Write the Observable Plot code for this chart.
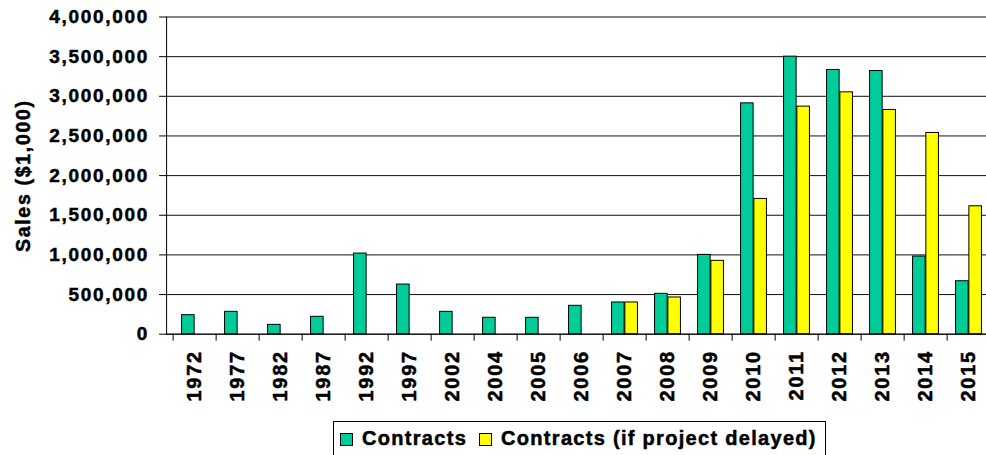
<!DOCTYPE html>
<html><head><meta charset="utf-8">
<script src="https://cdn.jsdelivr.net/npm/d3@7"></script>
<script src="https://cdn.jsdelivr.net/npm/@observablehq/plot@0.6"></script>
<style>
html,body{margin:0;padding:0;background:#fff;overflow:hidden;}
#wrap{position:relative;width:986px;height:455px;overflow:hidden;background:#fff;}
#chart svg{display:block;max-width:none !important;width:997px !important;height:420px !important;}
#chart svg text{stroke:#000;stroke-width:0.5px;}
#legend{position:absolute;left:333px;top:421px;height:40px;border:1.5px solid #000;box-sizing:border-box;display:flex;align-items:flex-start;padding:5px 8px 0 6px;font:bold 20px "Liberation Sans",Arial,sans-serif;letter-spacing:1.3px;-webkit-text-stroke:0.5px #000;color:#000;background:#fff;white-space:nowrap;}
.sw{width:11px;height:11px;border:1px solid #000;flex:none;margin:6px 9px 0 0;-webkit-text-stroke:0;}
.lab{margin-right:12px;}
</style></head>
<body>
<div id="wrap"><div id="chart"></div>
<div id="legend"></div></div>
<script>
const years = ["1972","1977","1982","1987","1992","1997","2002","2004","2005","2006","2007","2008","2009","2010","2011","2012","2013","2014","2015"];
const contracts = [240000,282000,118000,219000,1017000,626000,282000,207000,207000,358000,400000,509000,1000000,2911000,3500000,3332000,3319000,979000,668000];
const delayed = [null,null,null,null,null,null,null,null,null,null,400000,463000,925000,1706000,2870000,3050000,2828000,2538000,1613000];
const seriesNames = ["Contracts","Contracts (if project delayed)"];
const seriesColors = ["#00CC99","#FFFF00"];
const yTicks = [0,500000,1000000,1500000,2000000,2500000,3000000,3500000,4000000];

const rows = years.map((y,i)=>({year:y, contracts:contracts[i], delayed:delayed[i]}));
const W = 997, H = 420, ML = 166.1, MT = 16.5, Y0 = 333.7;
const bw = (W - ML) / years.length;
const barW = 13.3;

const chart = Plot.plot({
  width: W, height: H,
  marginLeft: ML, marginRight: 0, marginTop: MT, marginBottom: H - Y0,
  x: {type: "band", domain: years, padding: 0, axis: null},
  y: {domain: [0, 4000000], axis: null},
  style: {fontFamily: "'Liberation Sans', Arial, sans-serif", fontWeight: "bold", fontSize: "19px", color: "#000", letterSpacing: "1.7px", background: "#fff"},
  marks: [
    Plot.gridY(yTicks, {stroke: "#111", strokeOpacity: 1, strokeWidth: 1}),
    Plot.barY(rows, {x: "year", y: "contracts", fill: seriesColors[0], stroke: "#000", strokeWidth: 1, insetLeft: bw/2 - barW, insetRight: bw/2}),
    Plot.barY(rows.filter(d => d.delayed != null), {x: "year", y: "delayed", fill: seriesColors[1], stroke: "#000", strokeWidth: 1, insetLeft: bw/2, insetRight: bw/2 - barW}),
    Plot.ruleY([0], {stroke: "#000", strokeWidth: 1}),
    Plot.frame({anchor: "left", stroke: "#000"}),
    Plot.axisY({ticks: yTicks, tickFormat: d3.format(","), tickSize: 7, tickPadding: 10.5, fontSize: 19, stroke: "#000", label: null}),
    Plot.axisX({tickSize: 7, tickFormat: () => "", dx: -bw/2, stroke: "#000", label: null}),
    Plot.axisX({tickSize: 0, tickPadding: 16, tickRotate: -90, fontSize: 20, label: null}),
    Plot.text(["Sales ($1,000)"], {frameAnchor: "left", dx: -143, rotate: -90, fontSize: 19.5, fontWeight: "bold", fill: "#000", textAnchor: "middle", lineAnchor: "middle"})
  ]
});
document.getElementById("chart").appendChild(chart);

const lg = document.getElementById("legend");
seriesNames.forEach((n,i)=>{
  const s = document.createElement("span"); s.className = "sw"; s.style.background = seriesColors[i];
  const t = document.createElement("span"); t.className = "lab"; t.textContent = n;
  if (i === seriesNames.length - 1) t.style.marginRight = "0";
  lg.appendChild(s); lg.appendChild(t);
});
</script>
</body></html>
